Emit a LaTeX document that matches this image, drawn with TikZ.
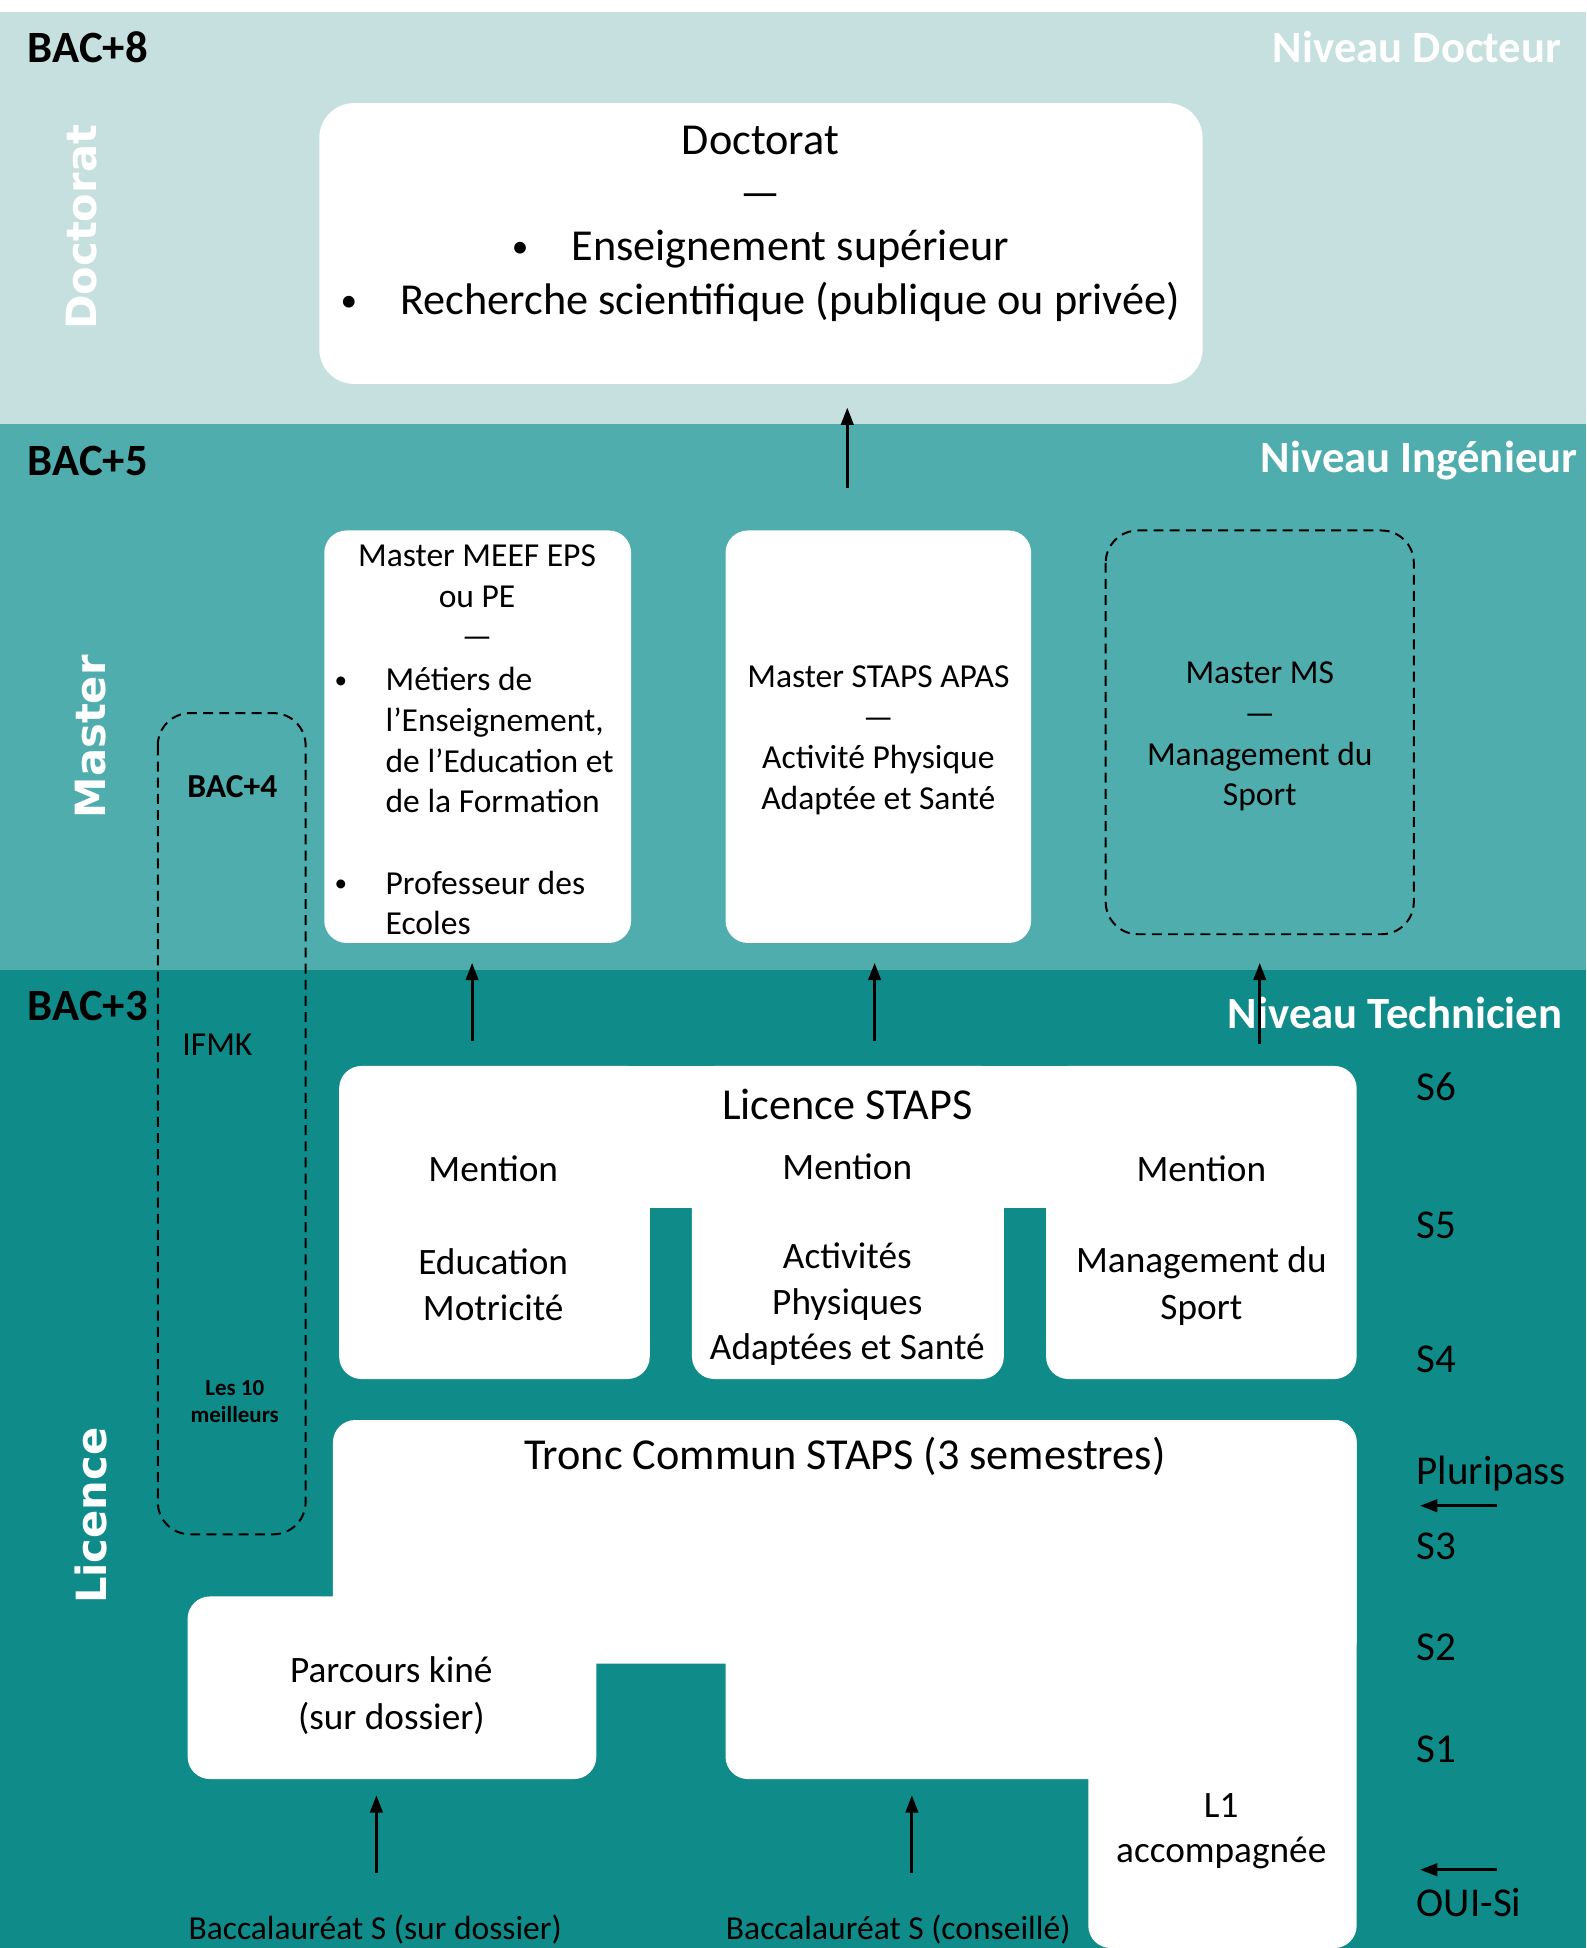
\documentclass[tikz,border=0pt]{standalone}
\usepackage{fontspec}
\setmainfont{Carlito}
\newfontfamily\sidefont{DejaVu Sans}
\usetikzlibrary{arrows.meta}

\definecolor{docteal}{HTML}{C5E0DF}
\definecolor{masteal}{HTML}{50ADAD}
\definecolor{licteal}{HTML}{0F8C8A}

\newcommand\fsz[2]{\fontsize{#1}{#2}\selectfont}
\newcommand\bulDot{\raisebox{0.07em}{\scalebox{0.75}{•}}}
\newcommand\bulA{\makebox[24pt][l]{\bulDot}}
\newcommand\bulB{\makebox[20.5pt][l]{\bulDot}}
\newcommand\indB{\hspace*{20.5pt}}

\begin{document}
\begin{tikzpicture}[x=0.5pt,y=-0.5pt,
    whitebox/.style={fill=white, rounded corners=9pt},
    dashbox/.style={draw=black, line width=0.8pt, dash pattern=on 4pt off 2.5pt, rounded corners=13pt},
    lvl/.style={font=\bfseries\fsz{18}{21}, inner sep=0pt},
    side/.style={font=\sidefont\bfseries\fsz{16.75}{20}, text=white, rotate=90, inner sep=0pt},
    txtBig/.style={font=\fsz{17.8}{21.5}, align=center, inner sep=0pt},
    txtMid/.style={font=\fsz{15}{18.8}, align=center, inner sep=0pt},
    txtSmall/.style={font=\fsz{13.5}{16.35}, align=center, inner sep=0pt},
    txtTiny/.style={font=\bfseries\fsz{9.25}{11}, align=center, inner sep=0pt},
    sem/.style={font=\fsz{16.5}{20}, anchor=west, inner sep=0pt},
    flow/.style={-{Triangle[length=7pt,width=5pt]}, line width=1.2pt}]
  \useasboundingbox (0,0) rectangle (1277,1568);
  % bands
  \fill[white] (0,0) rectangle (1277,1568);
  \fill[docteal] (0,10) rectangle (1277,341);
  \fill[masteal] (0,341) rectangle (1277,781);
  \fill[licteal] (0,781) rectangle (1277,1568);
  % levels
  \node[lvl, anchor=west] (bac8) at (22,38) {BAC+8};
  \node[lvl, anchor=east, text=white] (nivDoc) at (1257,38) {Niveau Docteur};
  \node[lvl, anchor=west] (bac5) at (22,371) {BAC+5};
  \node[lvl, anchor=east, text=white] (nivIng) at (1270,371) {Niveau Ingénieur};
  \node[lvl, anchor=west] (bac3) at (22,810) {BAC+3};
  \node[lvl, anchor=east, text=white] (nivTech) at (1258,815) {Niveau Technicien};
  % section names
  \node[side] (secDoc) at (66,183) {Doctorat};
  \node[side] (secMas) at (73,593) {Master};
  \node[side] (secLic) at (73,1220) {Licence};
  % doctorat
  \fill[whitebox, rounded corners=14pt] (257,83) rectangle (968,309);
  \node[txtBig] (phd) at (612,180) {Doctorat\\—\\\bulA Enseignement supérieur\\\bulA Recherche scientifique (publique ou privée)};
  % masters
  \fill[whitebox] (261,427) rectangle (508,759);
  \fill[whitebox] (584,427) rectangle (830,759);
  \draw[dashbox] (890,427) rectangle (1138,752);
  \node[txtSmall] (meefHead) at (384,480) {Master MEEF EPS\\ou PE\\—};
  \node[txtSmall, align=left, anchor=west] (meefList) at (269,645) {\bulB Métiers de\\\indB l’Enseignement,\\\indB de l’Education et\\\indB de la Formation\\[16.35pt]\bulB Professeur des\\\indB Ecoles};
  \node[txtSmall] (apas) at (707,596) {Master STAPS APAS\\—\\Activité Physique\\Adaptée et Santé};
  \node[txtSmall] (ms) at (1014,593) {Master MS\\—\\Management du\\Sport};
  % kine path
  \draw[dashbox] (127,574) rectangle (246,1235);
  \node[txtSmall, font=\bfseries\fsz{13.5}{16.35}] (bac4) at (187,633) {BAC+4};
  \node[txtSmall] (ifmk) at (175,841) {IFMK};
  \node[txtTiny] (best) at (189,1128) {Les 10\\meilleurs};
  % licence staps
  \fill[whitebox] (273,858) rectangle (523,1110);
  \fill[whitebox] (557,858) rectangle (808,1110);
  \fill[whitebox] (842,858) rectangle (1092,1110);
  \fill[white] (292,858) rectangle (1073,972);
  \node[txtBig] (lic) at (682,889) {Licence STAPS};
  \node[txtMid] (menA) at (397,941) {Mention};
  \node[txtMid] (menB) at (682,939) {Mention};
  \node[txtMid] (menC) at (967,941) {Mention};
  \node[txtMid] (eduMot) at (397,1034) {Education\\Motricité};
  \node[txtMid, font=\fsz{15}{18.3}] (apa) at (682,1050) {Activités\\Physiques\\Adaptées et Santé};
  \node[txtMid] (mgt) at (967,1035) {Management du\\Sport};
  % tronc commun
  \fill[whitebox] (268,1143) rectangle (1092,1339);
  \fill[whitebox] (151,1285) rectangle (480,1432);
  \fill[whitebox] (584,1300) rectangle (900,1432);
  \fill[whitebox] (876,1143) rectangle (1092,1568);
  \node[txtBig] (tronc) at (680,1172) {Tronc Commun STAPS (3 semestres)};
  \node[txtMid, font=\fsz{15}{19}] (kine) at (315,1365) {Parcours kiné\\(sur dossier)};
  \node[txtMid, font=\fsz{15}{18}] (lun) at (983,1474) {L1\\accompagnée};
  \node[txtSmall] (bacA) at (302,1553) {Baccalauréat S (sur dossier)};
  \node[txtSmall] (bacB) at (723,1553) {Baccalauréat S (conseillé)};
  % semesters
  \node[sem] (s6) at (1140,875) {S6};
  \node[sem] (s5) at (1140,986) {S5};
  \node[sem] (s4) at (1140,1094) {S4};
  \node[sem] (plu) at (1140,1186) {Pluripass};
  \node[sem] (s3) at (1140,1245) {S3};
  \node[sem] (s2) at (1140,1326) {S2};
  \node[sem] (s1) at (1140,1408) {S1};
  \node[sem] (oui) at (1140,1531) {OUI-Si};
  % arrows
  \coordinate (phdFrom) at (682,393);
  \coordinate (phdTo) at (682,328);
  \coordinate (meefFrom) at (380,838);
  \coordinate (meefTo) at (380,775);
  \coordinate (apasFrom) at (704,838);
  \coordinate (apasTo) at (704,775);
  \coordinate (msFrom) at (1014,840);
  \coordinate (msTo) at (1014,775);
  \coordinate (kineFrom) at (303,1508);
  \coordinate (kineTo) at (303,1445);
  \coordinate (lunFrom) at (734,1508);
  \coordinate (lunTo) at (734,1445);
  \coordinate (pluFrom) at (1205,1212);
  \coordinate (pluTo) at (1143,1212);
  \coordinate (ouiFrom) at (1205,1505);
  \coordinate (ouiTo) at (1143,1505);
  \draw[flow] (phdFrom) -- (phdTo);
  \draw[flow] (meefFrom) -- (meefTo);
  \draw[flow] (apasFrom) -- (apasTo);
  \draw[flow] (msFrom) -- (msTo);
  \draw[flow] (kineFrom) -- (kineTo);
  \draw[flow] (lunFrom) -- (lunTo);
  \draw[flow] (pluFrom) -- (pluTo);
  \draw[flow] (ouiFrom) -- (ouiTo);
\end{tikzpicture}
\end{document}
